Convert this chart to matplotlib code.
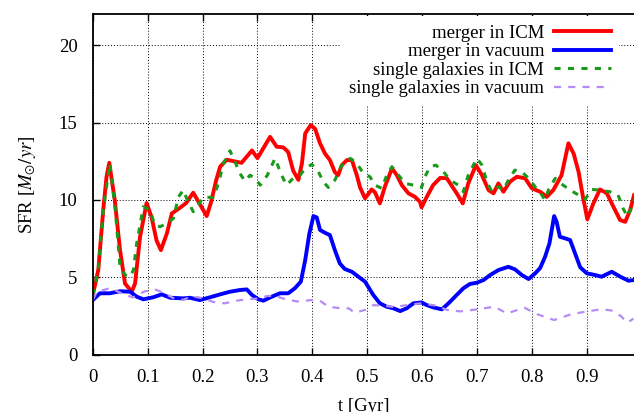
import numpy as np
import matplotlib
matplotlib.use("Agg")
import matplotlib.pyplot as plt
from matplotlib.ticker import FuncFormatter

# data: time [Gyr] and SFR [Msun/yr]
t_merger_icm = [0, 0.010, 0.019, 0.025, 0.030, 0.040, 0.0496, 0.0587, 0.071, 0.077, 0.086, 0.098,
                0.107, 0.116, 0.124, 0.135, 0.144, 0.159, 0.170, 0.183, 0.2075, 0.215, 0.225, 0.232,
                0.244, 0.271, 0.290, 0.300, 0.323, 0.335, 0.347, 0.356, 0.365, 0.3745, 0.381, 0.387,
                0.397, 0.405, 0.414, 0.423, 0.432, 0.441, 0.447, 0.4536, 0.463, 0.472, 0.481, 0.487,
                0.496, 0.508, 0.514, 0.523, 0.532, 0.545, 0.554, 0.563, 0.575, 0.587, 0.596, 0.599,
                0.608, 0.620, 0.633, 0.645, 0.663, 0.674, 0.684, 0.698, 0.709, 0.721, 0.730, 0.739,
                0.748, 0.760, 0.7725, 0.7876, 0.800, 0.815, 0.827, 0.839, 0.854, 0.8665, 0.876, 0.885,
                0.893, 0.901, 0.912, 0.924, 0.9365, 0.9485, 0.9607, 0.970, 0.979, 0.986]
sfr_merger_icm = [3.86, 5.47, 9.35, 11.5, 12.4, 10.0, 6.76, 4.6, 4.07, 4.6, 7.6, 9.8,
                  8.9, 7.4, 6.76, 7.84, 9.13, 9.5, 9.8, 10.47, 8.96, 9.8, 11.3, 12.15,
                  12.6, 12.4, 13.2, 12.7, 14.08, 13.44, 13.4, 13.1, 11.9, 11.3, 12.36, 14.3,
                  14.84, 14.6, 13.66, 13.0, 12.58, 11.8, 11.6, 12.25, 12.58, 12.58, 11.6, 10.8,
                  10.1, 10.68, 10.5, 9.78, 10.85, 12.04, 11.6, 10.96, 10.43, 10.2, 9.88, 9.52,
                  10.17, 10.96, 11.43, 11.4, 10.43, 9.78, 11.07, 12.25, 11.6, 10.64, 10.43, 11.07,
                  10.53, 11.18, 11.5, 11.4, 10.75, 10.53, 10.2, 10.64, 11.6, 13.66, 13.0, 11.82,
                  10.2, 8.75, 9.78, 10.68, 10.43, 9.56, 8.70, 8.59, 9.35, 10.3]

t_merger_vac = [0, 0.013, 0.031, 0.0496, 0.068, 0.080, 0.092, 0.110, 0.1256, 0.141, 0.165, 0.177,
                0.195, 0.2136, 0.232, 0.250, 0.268, 0.2805, 0.290, 0.3016, 0.311, 0.323, 0.341, 0.356,
                0.368, 0.379, 0.387, 0.3946, 0.402, 0.408, 0.414, 0.423, 0.432, 0.441, 0.450, 0.459,
                0.472, 0.484, 0.496, 0.511, 0.523, 0.5356, 0.5476, 0.560, 0.572, 0.584, 0.599, 0.608,
                0.620, 0.636, 0.648, 0.663, 0.675, 0.687, 0.6996, 0.712, 0.724, 0.739, 0.757, 0.769,
                0.7816, 0.794, 0.806, 0.815, 0.824, 0.832, 0.8405, 0.845, 0.851, 0.8605, 0.8696, 0.8786,
                0.888, 0.900, 0.915, 0.927, 0.9455, 0.961, 0.976, 0.986]
sfr_merger_vac = [3.53, 3.97, 3.97, 4.1, 4.07, 3.75, 3.58, 3.71, 3.9, 3.68, 3.64, 3.68,
                  3.53, 3.71, 3.9, 4.07, 4.18, 4.22, 3.86, 3.58, 3.49, 3.7, 3.97, 3.97,
                  4.29, 4.72, 6.12, 7.84, 8.96, 8.87, 8.06, 7.88, 7.73, 6.76, 5.9, 5.54,
                  5.36, 5.04, 4.72, 3.86, 3.32, 3.1, 3.0, 2.82, 3.0, 3.32, 3.38, 3.21,
                  3.06, 2.93, 3.32, 3.86, 4.29, 4.57, 4.65, 4.83, 5.15, 5.47, 5.68, 5.52,
                  5.15, 4.89, 5.26, 5.6, 6.33, 7.2, 8.96, 8.59, 7.62, 7.52, 7.41, 6.55,
                  5.65, 5.26, 5.15, 5.04, 5.36, 5.04, 4.78, 4.83]

t_single_icm = [0, 0.010, 0.019, 0.031, 0.0405, 0.0496, 0.059, 0.068, 0.074, 0.080, 0.092, 0.104,
                0.113, 0.1225, 0.135, 0.147, 0.156, 0.165, 0.171, 0.183, 0.192, 0.201, 0.2196, 0.229,
                0.238, 0.250, 0.259, 0.268, 0.277, 0.2865, 0.2956, 0.305, 0.318, 0.332, 0.344, 0.353,
                0.365, 0.3776, 0.387, 0.399, 0.411, 0.420, 0.429, 0.441, 0.4536, 0.469, 0.481, 0.493,
                0.505, 0.514, 0.5265, 0.5356, 0.545, 0.557, 0.569, 0.584, 0.599, 0.605, 0.6145, 0.625,
                0.639, 0.651, 0.666, 0.675, 0.684, 0.6996, 0.709, 0.718, 0.727, 0.739, 0.748, 0.757,
                0.769, 0.7816, 0.794, 0.806, 0.818, 0.824, 0.830, 0.8425, 0.854, 0.8696, 0.885, 0.897,
                0.909, 0.924, 0.942, 0.957, 0.966, 0.974, 0.982, 0.986]
sfr_single_icm = [3.86, 5.5, 9.35, 12.36, 9.56, 5.68, 5.15, 5.04, 5.47, 7.2, 9.56, 9.35,
                  8.38, 8.27, 8.49, 8.81, 10.2, 10.64, 10.1, 9.24, 9.67, 10.17, 10.17, 11.07,
                  12.36, 13.18, 12.47, 11.72, 11.22, 11.6, 11.4, 10.96, 11.6, 12.69, 11.6, 10.96,
                  11.4, 11.6, 12.04, 12.3, 11.82, 11.18, 10.81, 11.28, 12.25, 12.69, 12.36, 11.72,
                  11.5, 10.96, 10.75, 11.6, 12.15, 11.6, 11.07, 10.96, 10.81, 11.5, 12.15, 12.25,
                  11.82, 11.28, 10.96, 10.53, 11.6, 12.69, 12.25, 11.18, 10.53, 10.85, 10.64, 11.28,
                  11.93, 11.82, 11.4, 10.85, 10.32, 10.0, 10.64, 11.4, 11.03, 10.64, 10.32, 10.04,
                  10.68, 10.64, 10.53, 10.32, 9.46, 8.92, 9.56, 10.0]

t_single_vac = [0, 0.007, 0.031, 0.056, 0.073, 0.095, 0.115, 0.1285, 0.150, 0.165, 0.180, 0.200,
                0.220, 0.240, 0.262, 0.280, 0.305, 0.317, 0.332, 0.347, 0.3716, 0.399, 0.414, 0.429,
                0.452, 0.466, 0.477, 0.497, 0.511, 0.5246, 0.549, 0.573, 0.5975, 0.622, 0.646, 0.670,
                0.7007, 0.731, 0.755, 0.786, 0.810, 0.8405, 0.871, 0.901, 0.9256, 0.9438, 0.962, 0.974,
                0.985]
sfr_single_vac = [3.53, 4.05, 4.3, 3.92, 3.7, 4.1, 4.2, 4.0, 3.6, 3.55, 3.77, 3.66,
                  3.4, 3.32, 3.49, 3.58, 3.64, 3.79, 3.8, 3.63, 3.44, 3.53, 3.49, 3.1,
                  3.0, 3.0, 2.72, 2.9, 3.2, 3.19, 3.08, 3.21, 3.32, 3.19, 2.89, 2.8,
                  2.93, 3.1, 2.67, 3.04, 2.61, 2.24, 2.61, 2.8, 2.93, 2.87, 2.5, 2.07,
                  2.33]

x_ticks = [0, 0.1, 0.2, 0.3, 0.4, 0.5, 0.6, 0.7, 0.8, 0.9]
y_ticks = [0, 5, 10, 15, 20]

plt.rcParams['font.family'] = ['Liberation Serif', 'DejaVu Serif']
plt.rcParams['mathtext.fontset'] = 'stix'
fs = 13.5

W, H = 634, 412
fig = plt.figure(figsize=(W / 100, H / 100), dpi=100)
ax = fig.add_axes([92.8 / W, 1 - 354.7 / H, (W - 92.8) / W, (354.7 - 14.3) / H])

ax.plot(t_merger_icm, sfr_merger_icm, color='#ff0000', lw=2.8, label='merger in ICM')
ax.plot(t_merger_vac, sfr_merger_vac, color='#0000ff', lw=2.8, label='merger in vacuum')
ax.plot(t_single_icm, sfr_single_icm, color='#1a9a1a', lw=2.2, dashes=(2, 2.4),
        label='single galaxies in ICM')
ax.plot(t_single_vac, sfr_single_vac, color='#b58cf5', lw=1.6, dashes=(3.2, 3.2),
        label='single galaxies in vacuum')

ax.set_xlim(0, 0.986)
ax.set_ylim(0, 22)
ax.set_xticks(x_ticks)
ax.set_yticks(y_ticks)
ax.xaxis.set_major_formatter(FuncFormatter(lambda v, p: '%g' % v))
ax.tick_params(direction='in', length=5, width=1, top=True, right=False,
               labelsize=fs, pad=10, colors='black')
ax.tick_params(axis='y', pad=11)
ax.grid(True, color='black', linestyle=(0, (1, 2)), lw=0.7)
for s in ['left', 'bottom', 'top']:
    ax.spines[s].set_linewidth(1.3)
ax.spines['right'].set_visible(False)

ax.set_xlabel('t [Gyr]', fontsize=fs, labelpad=9)
ax.set_ylabel(r'SFR [$M_{\odot}/yr$]', fontsize=fs, labelpad=15)

leg = ax.legend(loc='upper right', bbox_to_anchor=(619 / W, 1 - 16 / H),
                bbox_transform=fig.transFigure, markerfirst=False, frameon=True,
                fancybox=False, framealpha=1, edgecolor='none', borderpad=0.45,
                borderaxespad=0, handlelength=3.0, handletextpad=0.55, labelspacing=0.08,
                fontsize=fs)
leg.get_frame().set_linewidth(0)

fig.savefig('out.png', dpi=100)
